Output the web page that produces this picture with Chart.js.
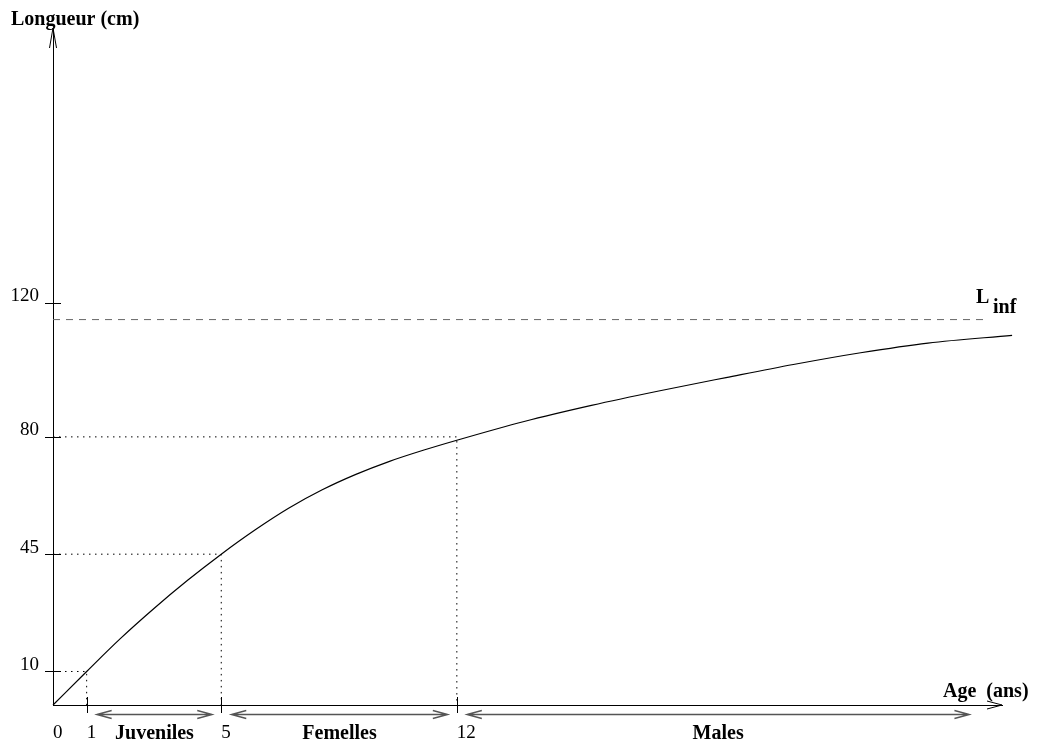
<!DOCTYPE html>
<html>
<head>
<meta charset="utf-8">
<script src="https://cdn.jsdelivr.net/npm/chart.js@4"></script>
<style>
    html, body { margin: 0; padding: 0; background: #fff; }
</style>
</head>
<body>
<canvas id="croissance" width="1039" height="749"></canvas>
<script>
// courbe de croissance (age en annees, longueur en cm)
const ages      = [0, 1, 2, 3, 4, 5, 6, 7, 8, 9, 10, 11, 12, 14, 16, 18, 20, 22, 24, 26, 28.5];
const longueurs = [0, 10, 19.8, 28.8, 37.2, 45, 52.2, 58.7, 64.2, 68.8, 72.7, 76, 79, 84.6, 89.4, 93.7, 97.7, 101.6, 105.1, 108, 110.3];

const xTicks = [0, 1, 5, 12];
const yTicks = [10, 45, 80, 120];

const lInf = 115;
const lInfFin = 27.75;

// reperes en pointilles
const reperesAge = [1, 5, 12];
const reperesLongueur = [10, 45, 80];

// stades
const stades = ['Juveniles', 'Femelles', 'Males'];
const stadesDebut = [1, 5, 12];
const stadesFin = [5, 12, 27.5];

const xMax = 28.2;
const yMax = 202;

(function() {
    const canvas = document.querySelector('#croissance');
    const ctx = canvas.getContext('2d');
    const police = 'Liberation Serif, Times New Roman, serif';

    const reperes = reperesAge.map((a, i) => ({
        data: [
            { x: 0, y: reperesLongueur[i] },
            { x: a, y: reperesLongueur[i] },
            { x: a, y: 0 }
        ],
        borderColor: '#000',
        borderWidth: 1,
        borderDash: [1.5, 4.5],
        pointRadius: 0,
        tension: 0
    }));

    const decor = {
        id: 'decor',
        afterDraw(chart) {
            const c = chart.ctx;
            const { left, top, right, bottom } = chart.chartArea;
            const sx = chart.scales.x;
            const sy = chart.scales.y;

            c.save();
            c.strokeStyle = '#000';
            c.lineWidth = 1;

            // fleches des axes
            c.beginPath();
            c.moveTo(left - 3.5, top + 20);
            c.lineTo(left, top);
            c.lineTo(left + 3.5, top + 20);
            c.moveTo(right - 15, bottom - 4);
            c.lineTo(right, bottom);
            c.lineTo(right - 15, bottom + 4);
            c.stroke();

            // graduations
            c.beginPath();
            yTicks.forEach(v => {
                const y = Math.round(sy.getPixelForValue(v)) + 0.5;
                c.moveTo(left - 8, y);
                c.lineTo(left + 8, y);
            });
            xTicks.slice(1).forEach(v => {
                const x = Math.round(sx.getPixelForValue(v)) + 0.5;
                c.moveTo(x, bottom - 8);
                c.lineTo(x, bottom + 8);
            });
            c.stroke();

            // fleches des stades
            const yf = bottom + 9.5;
            c.strokeStyle = '#555';
            c.lineWidth = 1.3;
            c.font = 'bold 20px ' + police;
            c.fillStyle = '#000';
            c.textAlign = 'center';
            c.textBaseline = 'alphabetic';
            stades.forEach((nom, i) => {
                const x1 = sx.getPixelForValue(stadesDebut[i]) + 10;
                const x2 = sx.getPixelForValue(stadesFin[i]) - 9;
                c.beginPath();
                c.moveTo(x1, yf);
                c.lineTo(x2, yf);
                c.moveTo(x1 + 15, yf - 4);
                c.lineTo(x1, yf);
                c.lineTo(x1 + 15, yf + 4);
                c.moveTo(x2 - 15, yf - 4);
                c.lineTo(x2, yf);
                c.lineTo(x2 - 15, yf + 4);
                c.stroke();
                c.fillText(nom, (x1 + x2) / 2, bottom + 34);
            });

            // titres
            c.textAlign = 'left';
            c.fillText('Longueur (cm)', 11, 25);
            c.fillText('Age  (ans)', 943, bottom - 8);

            const yl = sy.getPixelForValue(lInf);
            c.fillText('L', 976, yl - 17);
            c.fillText('inf', 993, yl - 7);
            c.restore();
        }
    };

    new Chart(ctx, {
        type: 'line',
        data: {
            datasets: [
                {
                    data: ages.map((a, i) => ({ x: a, y: longueurs[i] })),
                    borderColor: '#000',
                    borderWidth: 1.2,
                    pointRadius: 0,
                    cubicInterpolationMode: 'monotone',
                    clip: false
                },
                {
                    data: [{ x: 0, y: lInf }, { x: lInfFin, y: lInf }],
                    borderColor: '#666',
                    borderWidth: 1,
                    borderDash: [7, 6],
                    pointRadius: 0
                },
                ...reperes
            ]
        },
        options: {
            responsive: false,
            animation: false,
            layout: {
                padding: { left: 0, top: 28, right: 37, bottom: 0 }
            },
            scales: {
                x: {
                    type: 'linear',
                    min: 0,
                    max: xMax,
                    grid: { display: false, drawTicks: false },
                    border: { display: true, color: '#000', width: 1 },
                    afterBuildTicks: s => { s.ticks = xTicks.map(v => ({ value: v })); },
                    afterFit: s => { s.height = 44; },
                    ticks: {
                        align: 'start',
                        padding: 17,
                        maxRotation: 0,
                        autoSkip: false,
                        color: '#000',
                        font: { family: police, size: 19 }
                    }
                },
                y: {
                    min: 0,
                    max: yMax,
                    grid: { display: false, drawTicks: false },
                    border: { display: true, color: '#000', width: 1 },
                    afterBuildTicks: s => { s.ticks = yTicks.map(v => ({ value: v })); },
                    afterFit: s => { s.width = 53; },
                    ticks: {
                        padding: 14,
                        labelOffset: -6.5,
                        color: '#000',
                        font: { family: police, size: 19 }
                    }
                }
            },
            plugins: {
                legend: { display: false },
                tooltip: { enabled: false }
            }
        },
        plugins: [decor]
    });
})();
</script>
</body>
</html>
